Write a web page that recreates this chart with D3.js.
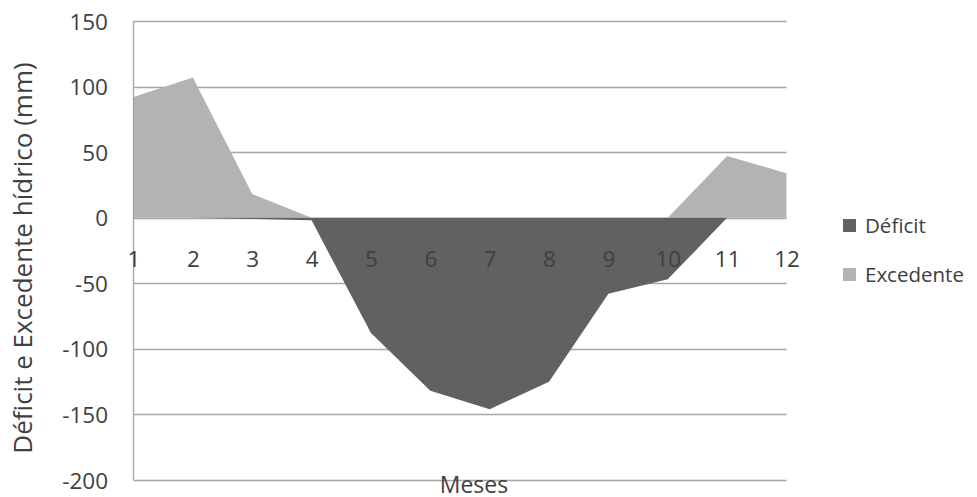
<!DOCTYPE html>
<html><head><meta charset="utf-8">
<script src="https://cdn.jsdelivr.net/npm/d3@7"></script>
<style>body{margin:0;background:#fff}svg{display:block}text{font-family:"Open Sans",Lato,sans-serif;fill:#404040}</style>
</head><body><svg id="c" width="977" height="497"></svg>
<script>
const months = [1,2,3,4,5,6,7,8,9,10,11,12];
const deficit = [0,0,-1,-2,-88,-132,-146,-125,-58,-47,0,0];
const excedente = [92,107,18,0,0,0,0,0,0,0,47,34];
const yTicks = [150,100,50,0,-50,-100,-150,-200];
const seriesNames = ["Déficit","Excedente"];
const colors = ["#616161","#b3b3b3"];

const svg = d3.select("#c");
const x = d3.scaleLinear().domain([1,12]).range([133.5,786.5]);
const y = d3.scaleLinear().domain([-200,150]).range([480,21]);
const fmt = d => String(d);

// gridlines
svg.append("g").selectAll("line").data(yTicks).join("line")
  .attr("x1",x(1)).attr("x2",x(12))
  .attr("y1",d=>Math.round(y(d))+0.5).attr("y2",d=>Math.round(y(d))+0.5)
  .attr("stroke","#a6a6a6").attr("stroke-width",1.3);

const area = vals => d3.area().x((d,i)=>x(months[i])).y0(y(0)).y1(d=>y(d))(vals);
svg.append("path").attr("d",area(excedente)).attr("fill",colors[1]);
svg.append("path").attr("d",area(deficit)).attr("fill",colors[0]);

// y axis line
svg.append("line").attr("x1",133.5).attr("x2",133.5).attr("y1",y(150)).attr("y2",y(-200))
  .attr("stroke","#a6a6a6").attr("stroke-width",1.3);

// y tick labels
const yAxis = d3.axisLeft(y).tickValues(yTicks).tickSize(0).tickPadding(0).tickFormat(fmt);
const ga = svg.append("g").attr("transform","translate(108,0)").call(yAxis);
ga.select(".domain").remove();
ga.selectAll("text").attr("font-size",22.5).style("font-family","'Open Sans'").attr("fill","#404040").attr("dy","0.36em");

// x tick labels
const xAxis = d3.axisBottom(x).tickValues(months).tickSize(0).tickPadding(0).tickFormat(fmt);
const gx = svg.append("g").attr("transform","translate(0,259)").call(xAxis);
gx.select(".domain").remove();
gx.selectAll("text").attr("font-size",22.5).style("font-family","'Open Sans'").attr("fill","#404040").attr("dy","0.36em").attr("y",0);

// axis titles
svg.append("text").attr("transform","translate(32,258) rotate(-90)").attr("text-anchor","middle")
  .attr("font-size",26).text("Déficit e Excedente hídrico (mm)");
svg.append("text").attr("x",474).attr("y",493).attr("text-anchor","middle")
  .attr("font-size",23).text("Meses");

// legend
const lg = svg.append("g").selectAll("g").data(seriesNames).join("g")
  .attr("transform",(d,i)=>`translate(843,${219+i*49})`);
lg.append("rect").attr("width",13).attr("height",13).attr("fill",(d,i)=>colors[i]);
lg.append("text").attr("x",22).attr("y",13.5).attr("font-size",20.5).text(d=>d);
</script></body></html>
